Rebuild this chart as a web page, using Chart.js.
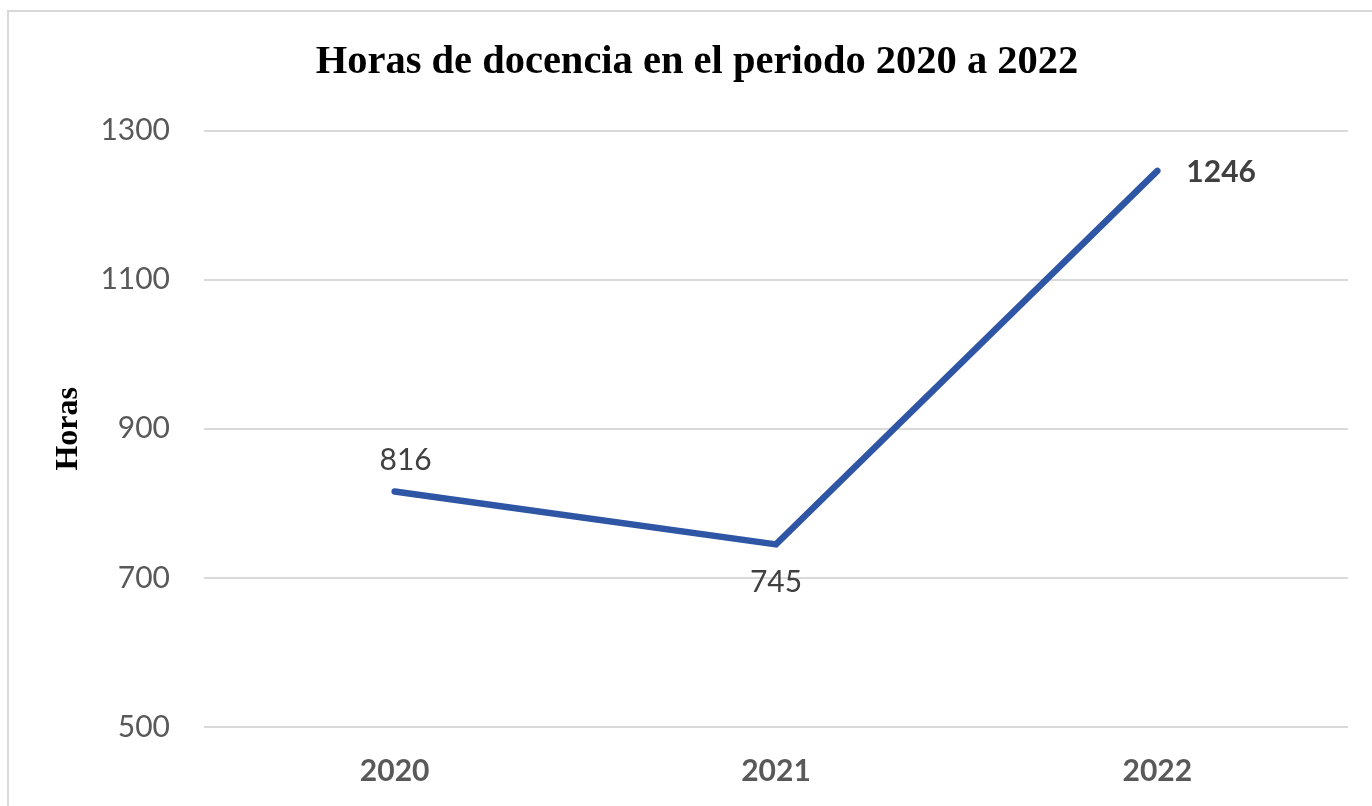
<!DOCTYPE html>
<html lang="es">
<head>
<meta charset="UTF-8">
<title>Horas de docencia</title>
<script src="https://cdn.jsdelivr.net/npm/chart.js"></script>
<style>
    html, body { margin: 0; padding: 0; background: #fff; overflow: hidden; }
    .frame { position: absolute; left: 7px; top: 10px; width: 1400px; height: 900px; border: 2px solid #d9d9d9; }
    .wrap { position: absolute; left: 0; top: 0; width: 1372px; height: 806px; }
</style>
</head>
<body>
<div class="frame"></div>
<div class="wrap"><canvas id="chart"></canvas></div>
<script>
    // data
    const years = ['2020', '2021', '2022'];
    const horas = [816, 745, 1246];
    const yTicks = [500, 700, 900, 1100, 1300];

    // label placement per point: dx, dy from the point, bold or not
    const labelPos = [
        { dx: 11, dy: -31, bold: false, align: 'center' },
        { dx: 0, dy: 38, bold: false, align: 'center' },
        { dx: 29, dy: 1, bold: true, align: 'left' }
    ];

    const valueLabels = {
        id: 'valueLabels',
        afterDatasetsDraw(chart) {
            const ctx = chart.ctx;
            const meta = chart.getDatasetMeta(0);
            ctx.save();
            ctx.fillStyle = '#404040';
            ctx.textBaseline = 'middle';
            meta.data.forEach((pt, i) => {
                const p = labelPos[i];
                ctx.font = (p.bold ? 'bold ' : '') + '30px Lato';
                ctx.textAlign = p.align;
                ctx.fillText(String(horas[i]), pt.x + p.dx, pt.y + p.dy);
            });
            ctx.restore();
        }
    };

    new Chart(document.getElementById('chart'), {
        type: 'line',
        data: {
            labels: years,
            datasets: [{
                data: horas,
                borderColor: '#2f55a5',
                borderWidth: 6.5,
                borderCapStyle: 'round',
                borderJoinStyle: 'miter',
                pointRadius: 0,
                tension: 0,
                fill: false
            }]
        },
        options: {
            responsive: true,
            maintainAspectRatio: false,
            animation: false,
            layout: { padding: { top: 0, left: 46, right: 24, bottom: 16 } },
            plugins: {
                legend: { display: false },
                tooltip: { enabled: false },
                title: {
                    display: true,
                    text: 'Horas de docencia en el periodo 2020 a 2022',
                    color: '#000',
                    font: { family: 'Liberation Serif', size: 40.5, weight: 'bold' },
                    padding: { top: 38, bottom: 44 }
                }
            },
            scales: {
                x: {
                    offset: true,
                    afterFit(scale) {
                        scale.height = 63;
                    },
                    grid: { display: false },
                    border: { display: false },
                    ticks: {
                        color: '#595959',
                        padding: 18,
                        font: { family: 'Lato', size: 30, weight: 'bold' }
                    }
                },
                y: {
                    min: 500,
                    max: 1300,
                    afterBuildTicks(scale) {
                        scale.ticks = yTicks.map(v => ({ value: v }));
                    },
                    afterFit(scale) {
                        scale.width = 158;
                    },
                    grid: { color: '#d9d9d9', lineWidth: 2, drawTicks: false },
                    border: { display: false },
                    ticks: {
                        color: '#595959',
                        padding: 34,
                        font: { family: 'Lato', size: 30 },
                        callback: v => String(v)
                    },
                    title: {
                        display: true,
                        text: 'Horas',
                        color: '#000',
                        font: { family: 'Liberation Serif', size: 32, weight: 'bold' },
                        padding: { top: 4, bottom: 0 }
                    }
                }
            }
        },
        plugins: [valueLabels]
    });
</script>
</body>
</html>
